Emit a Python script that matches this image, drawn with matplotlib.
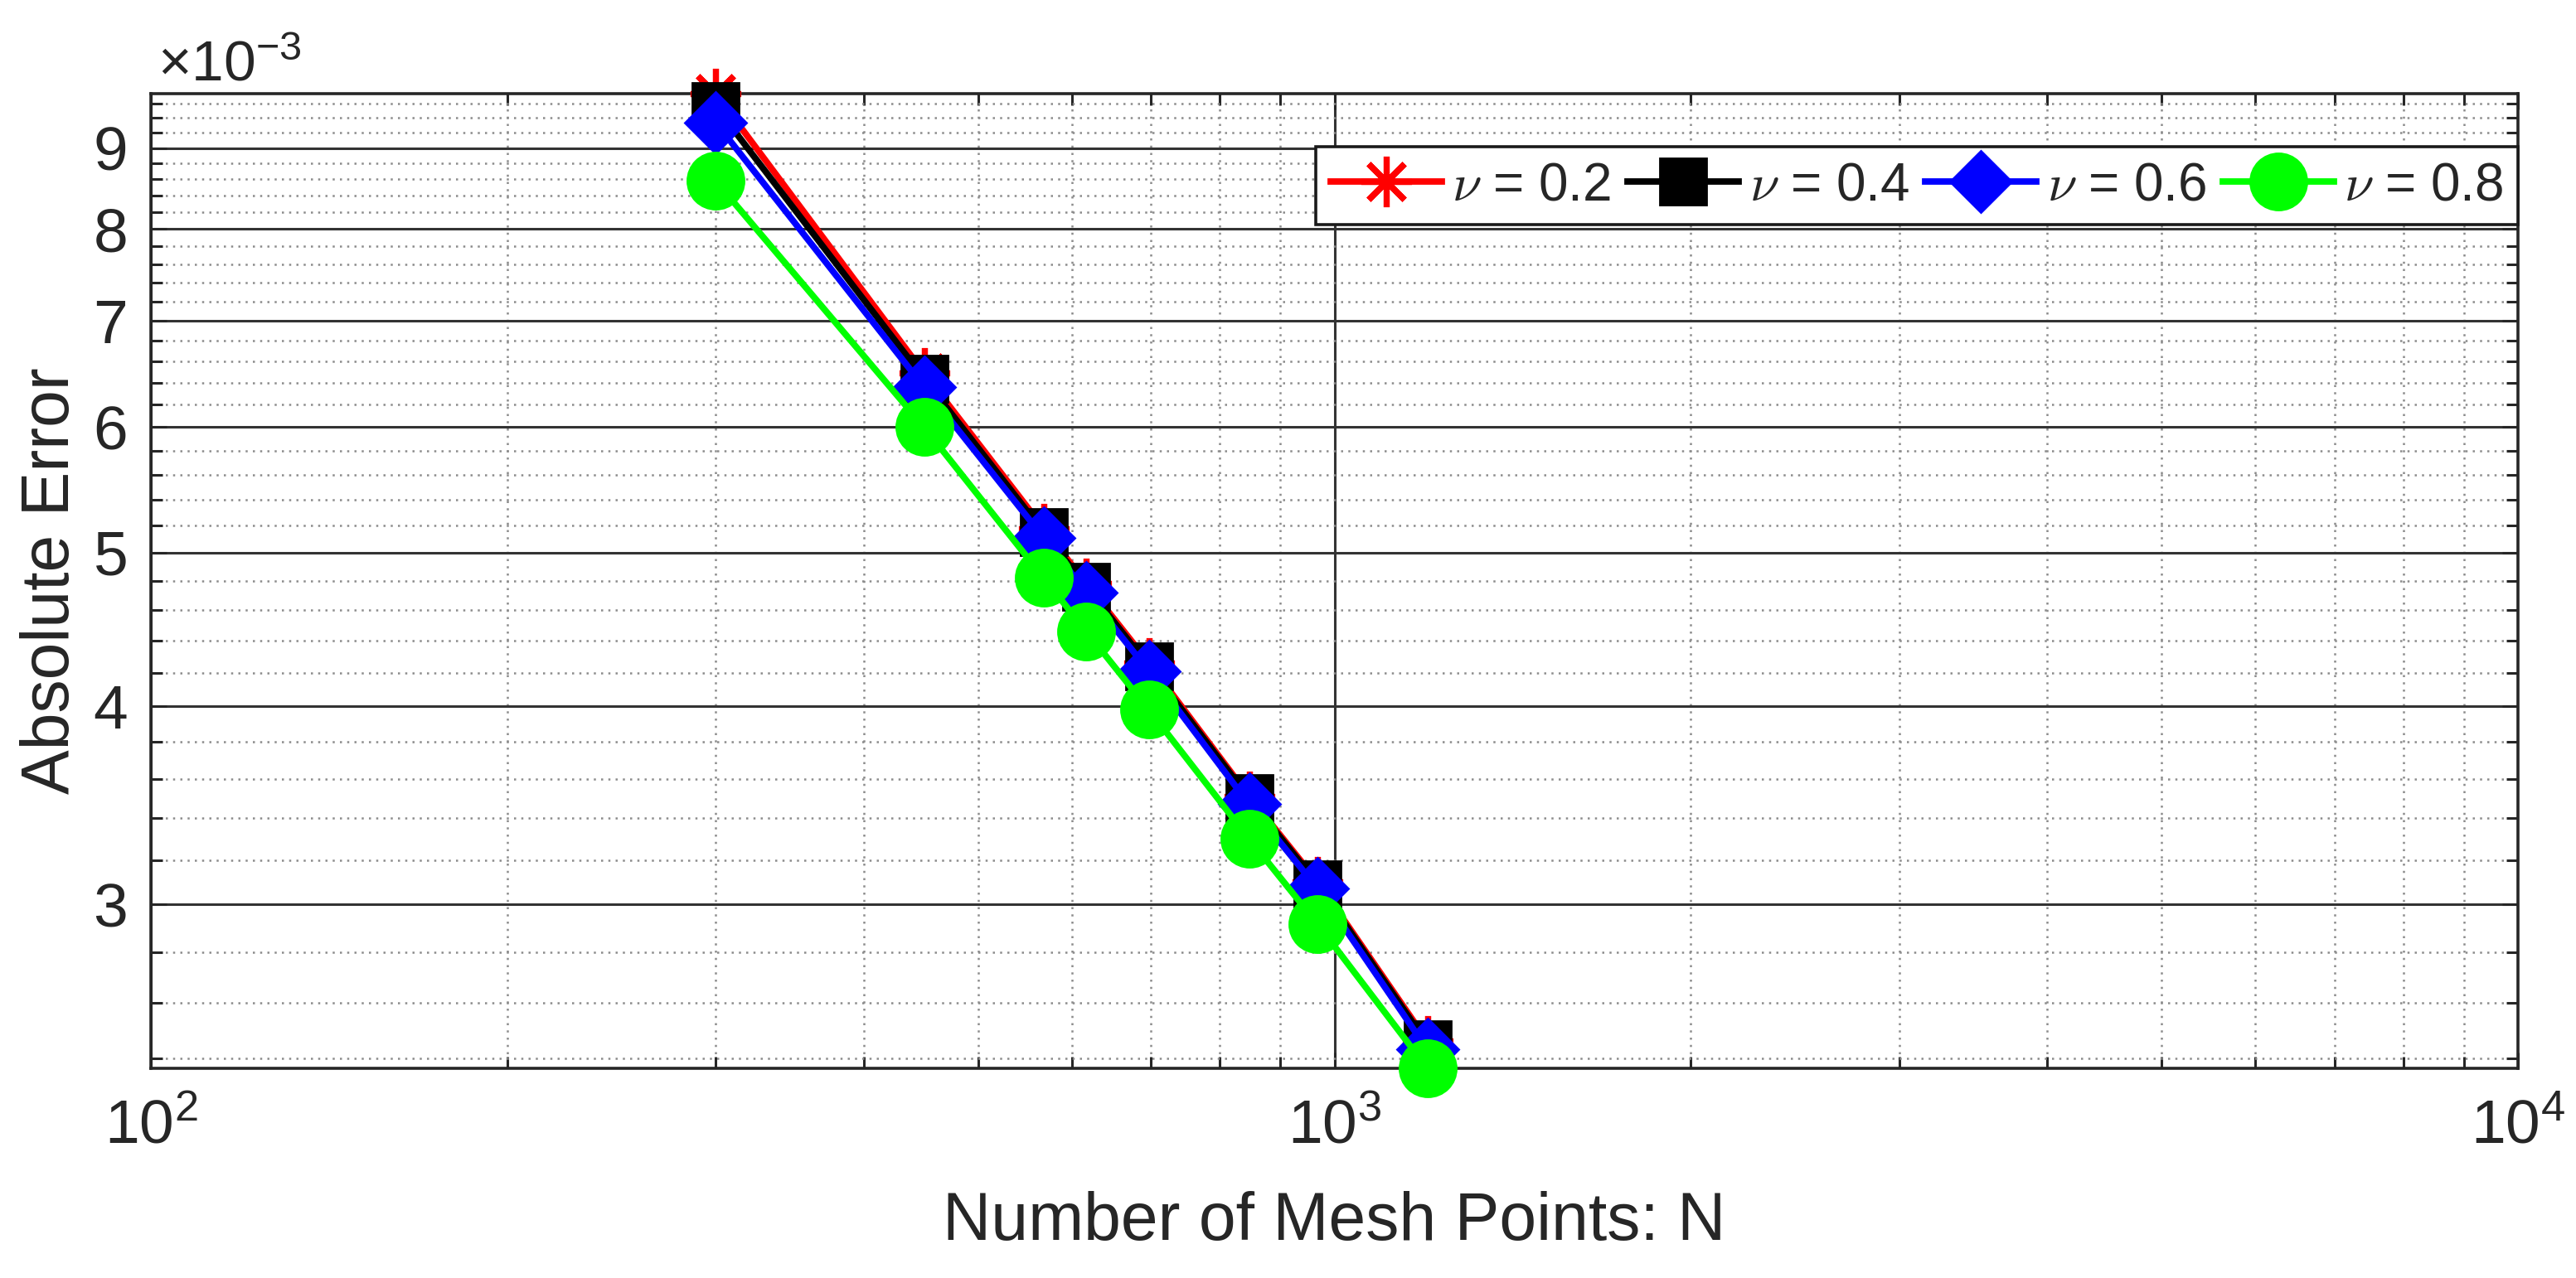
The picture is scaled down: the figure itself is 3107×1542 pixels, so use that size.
import numpy as np
import matplotlib
matplotlib.use('Agg')
import matplotlib.pyplot as plt
from matplotlib.ticker import FixedLocator, FuncFormatter, NullFormatter, LogLocator

plt.rcParams['font.family'] = ['Liberation Sans', 'DejaVu Sans']
plt.rcParams['mathtext.fontset'] = 'cm'
plt.rcParams['text.color'] = '0.15'
plt.rcParams['axes.labelcolor'] = '0.15'

# mesh points N and absolute error (in units of 1e-3) for each nu
mesh_n = [300, 450, 568, 617, 697, 847, 968, 1198]
err_nu02 = [9.74, 6.49, 5.18, 4.78, 4.26, 3.51, 3.10, 2.46]
err_nu04 = [9.56, 6.44, 5.15, 4.76, 4.24, 3.50, 3.09, 2.45]
err_nu06 = [9.34, 6.36, 5.11, 4.72, 4.21, 3.47, 3.07, 2.43]
err_nu08 = [8.58, 6.00, 4.82, 4.46, 3.98, 3.30, 2.915, 2.365]
nu_labels = ['0.2', '0.4', '0.6', '0.8']

# axis ticks
y_major = [3, 4, 5, 6, 7, 8, 9]
y_minor = [2.4, 2.6, 2.8, 3.2, 3.4, 3.6, 3.8, 4.2, 4.4, 4.6, 4.8,
           5.2, 5.4, 5.6, 5.8, 6.2, 6.4, 6.6, 6.8, 7.2, 7.4, 7.6, 7.8,
           8.2, 8.4, 8.6, 8.8, 9.2, 9.4, 9.6]
x_ticks = [1e2, 1e3, 1e4]

fig = plt.figure(figsize=(15.535, 7.71), dpi=200)
ax = fig.add_axes([0.0586, 0.1641, 0.9189, 0.7627])

# colour, marker, marker size, edge width (MATLAB-like styles)
styles = [('#ff0000', (8, 2, 0), 22, 2.6),
          ('#000000', 's', 20.5, 1.0),
          ('#0000ff', 'D', 19, 1.0),
          ('#00ff00', 'o', 24.5, 1.0)]
series = [err_nu02, err_nu04, err_nu06, err_nu08]

for errs, lab, (c, m, ms, mew) in zip(series, nu_labels, styles):
    ax.plot(mesh_n, np.array(errs) * 1e-3, color=c, marker=m, markersize=ms,
            markeredgewidth=mew, markeredgecolor=c, markerfacecolor=c,
            lw=2.8, label=r'$\nu$ = ' + lab, clip_on=False, zorder=3)

ax.set_xscale('log')
ax.set_yscale('log')
ax.set_xlim(x_ticks[0], x_ticks[-1])
ax.set_ylim(min(err_nu08) * 1e-3, max(err_nu02) * 1e-3)

ax.xaxis.set_major_locator(FixedLocator(x_ticks))
ax.xaxis.set_minor_locator(LogLocator(base=10, subs=np.arange(2, 10)))
ax.xaxis.set_minor_formatter(NullFormatter())
ax.xaxis.set_major_formatter(
    FuncFormatter(lambda v, p: r'$\mathdefault{10^{%d}}$' % round(np.log10(v))))

ax.yaxis.set_major_locator(FixedLocator([v * 1e-3 for v in y_major]))
ax.yaxis.set_minor_locator(FixedLocator([v * 1e-3 for v in y_minor]))
ax.yaxis.set_major_formatter(FuncFormatter(lambda v, p: '%g' % round(v * 1e3, 3)))
ax.yaxis.set_minor_formatter(NullFormatter())

# grid: solid major lines, dotted minor lines
ax.grid(True, which='major', color='0.2', lw=1.1, ls='-', zorder=1)
ax.grid(True, which='minor', color='0.55', lw=0.9, ls=(0, (1, 2.5)), zorder=1)
ax.set_axisbelow(True)

ax.tick_params(which='both', direction='in', top=True, right=True,
               width=1.1, colors='0.15')
ax.tick_params(which='major', length=7, labelsize=27)
ax.tick_params(which='minor', length=5)
ax.tick_params(axis='x', pad=13)
ax.tick_params(axis='y', pad=10)

for s in ax.spines.values():
    s.set_linewidth(1.3)
    s.set_color('0.15')

ax.set_xlabel('Number of Mesh Points: N', fontsize=29)
ax.xaxis.set_label_coords(0.5, -0.126)
ax.set_ylabel('Absolute Error', fontsize=29)
ax.yaxis.set_label_coords(-0.0287, 0.5)

# exponent label above the y axis
fig.text(190 / 3107, 1 - 97 / 1542, r'$\mathdefault{\times10^{-3}}$',
         fontsize=25, va='baseline', ha='left')

leg = ax.legend(loc='upper right', bbox_to_anchor=(1.0, 0.9456), ncol=4,
                fontsize=23, handlelength=2.1, handletextpad=0.2,
                columnspacing=0.3, borderpad=0.27, borderaxespad=0,
                frameon=True, fancybox=False, framealpha=1, edgecolor='0.1')
leg.get_frame().set_linewidth(1.3)

fig.savefig('out.png', dpi=200)
